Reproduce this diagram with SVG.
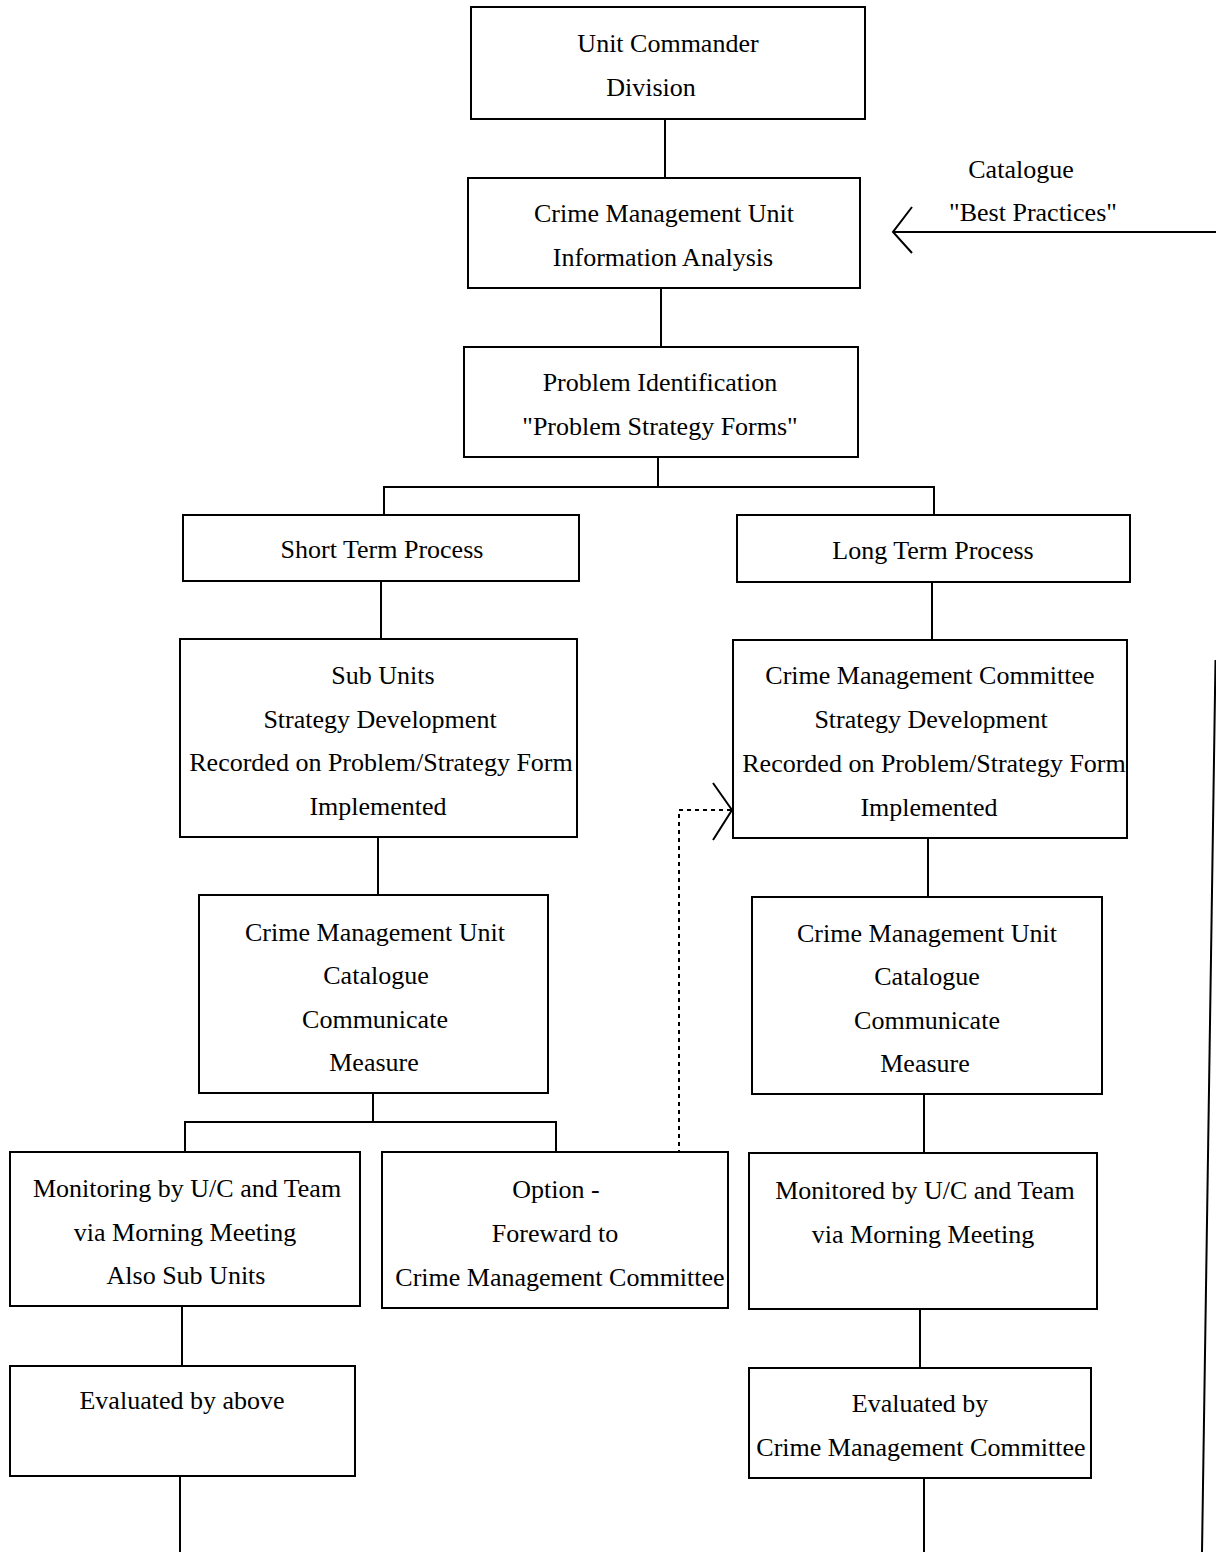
<svg xmlns="http://www.w3.org/2000/svg" width="1216" height="1552" viewBox="0 0 1216 1552">
<style>
rect{fill:#fff;stroke:#000;stroke-width:2}
text{font-family:"Liberation Serif","Times New Roman",serif;font-size:26px;fill:#000;text-anchor:middle}
.c line,.c polyline,.c path{stroke:#000;stroke-width:2;fill:none}
.c .dot{stroke-dasharray:4 4}
</style>
<rect x="0" y="0" width="1216" height="1552" style="fill:#fff;stroke:none"/>
<g class="c" id="connectors">
<line x1="665" y1="119" x2="665" y2="178"/>
<line x1="661" y1="288" x2="661" y2="347"/>
<polyline points="658,457 658,487"/>
<polyline points="384,526 384,487 934,487 934,526"/>
<line x1="381" y1="581" x2="381" y2="639"/>
<line x1="932" y1="582" x2="932" y2="640"/>
<line x1="378" y1="837" x2="378" y2="895"/>
<line x1="928" y1="838" x2="928" y2="897"/>
<line x1="373" y1="1093" x2="373" y2="1122"/>
<polyline points="185,1152 185,1122 556,1122 556,1152"/>
<line x1="924" y1="1094" x2="924" y2="1153"/>
<line x1="182" y1="1306" x2="182" y2="1366"/>
<line x1="920" y1="1309" x2="920" y2="1368"/>
<line x1="180" y1="1476" x2="180" y2="1552"/>
<line x1="924" y1="1478" x2="924" y2="1552"/>
<line x1="1216" y1="232" x2="894" y2="232"/>
<polyline points="912,207 893,232 912,253"/>
<line x1="1215.5" y1="660" x2="1202" y2="1552"/>
<polyline class="dot" points="679,1162 679,810 745,810"/>
<polyline points="713,783 732,810 713,840"/>
</g>
<g id="n1"><rect x="471" y="7" width="394" height="112"/><text x="668" y="52">Unit Commander</text><text x="651" y="96">Division</text></g>
<g id="n2"><rect x="468" y="178" width="392" height="110"/><text x="664" y="222">Crime Management Unit</text><text x="663" y="266">Information Analysis</text></g>
<g id="n3"><rect x="464" y="347" width="394" height="110"/><text x="660" y="391">Problem Identification</text><text x="660" y="435">"Problem Strategy Forms"</text></g>
<g id="n4"><rect x="183" y="515" width="396" height="66"/><text x="382" y="558">Short Term Process</text></g>
<g id="n5"><rect x="737" y="515" width="393" height="67"/><text x="933" y="559">Long Term Process</text></g>
<g id="n6"><rect x="180" y="639" width="397" height="198"/><text x="383" y="684">Sub Units</text><text x="380" y="728">Strategy Development</text><text x="381" y="771">Recorded on Problem/Strategy Form</text><text x="378" y="815">Implemented</text></g>
<g id="n7"><rect x="733" y="640" width="394" height="198"/><text x="930" y="684">Crime Management Committee</text><text x="931" y="728">Strategy Development</text><text x="934" y="772">Recorded on Problem/Strategy Form</text><text x="929" y="816">Implemented</text></g>
<g id="n8"><rect x="199" y="895" width="349" height="198"/><text x="375" y="941">Crime Management Unit</text><text x="376" y="984">Catalogue</text><text x="375" y="1028">Communicate</text><text x="374" y="1071">Measure</text></g>
<g id="n9"><rect x="752" y="897" width="350" height="197"/><text x="927" y="942">Crime Management Unit</text><text x="927" y="985">Catalogue</text><text x="927" y="1029">Communicate</text><text x="925" y="1072">Measure</text></g>
<g id="n10"><rect x="10" y="1152" width="350" height="154"/><text x="187" y="1197">Monitoring by U/C and Team</text><text x="185" y="1241">via Morning Meeting</text><text x="186" y="1284">Also Sub Units</text></g>
<g id="n11"><rect x="382" y="1152" width="346" height="156"/><text x="556" y="1198">Option -</text><text x="555" y="1242">Foreward to</text><text x="560" y="1286">Crime Management Committee</text></g>
<g id="n12"><rect x="749" y="1153" width="348" height="156"/><text x="925" y="1199">Monitored by U/C and Team</text><text x="923" y="1243">via Morning Meeting</text></g>
<g id="n13"><rect x="10" y="1366" width="345" height="110"/><text x="182" y="1409">Evaluated by above</text></g>
<g id="n14"><rect x="749" y="1368" width="342" height="110"/><text x="920" y="1412">Evaluated by</text><text x="921" y="1456">Crime Management Committee</text></g>
<g id="lbl"><text x="1021" y="178">Catalogue</text><text x="1033" y="221">"Best Practices"</text></g>
</svg>
